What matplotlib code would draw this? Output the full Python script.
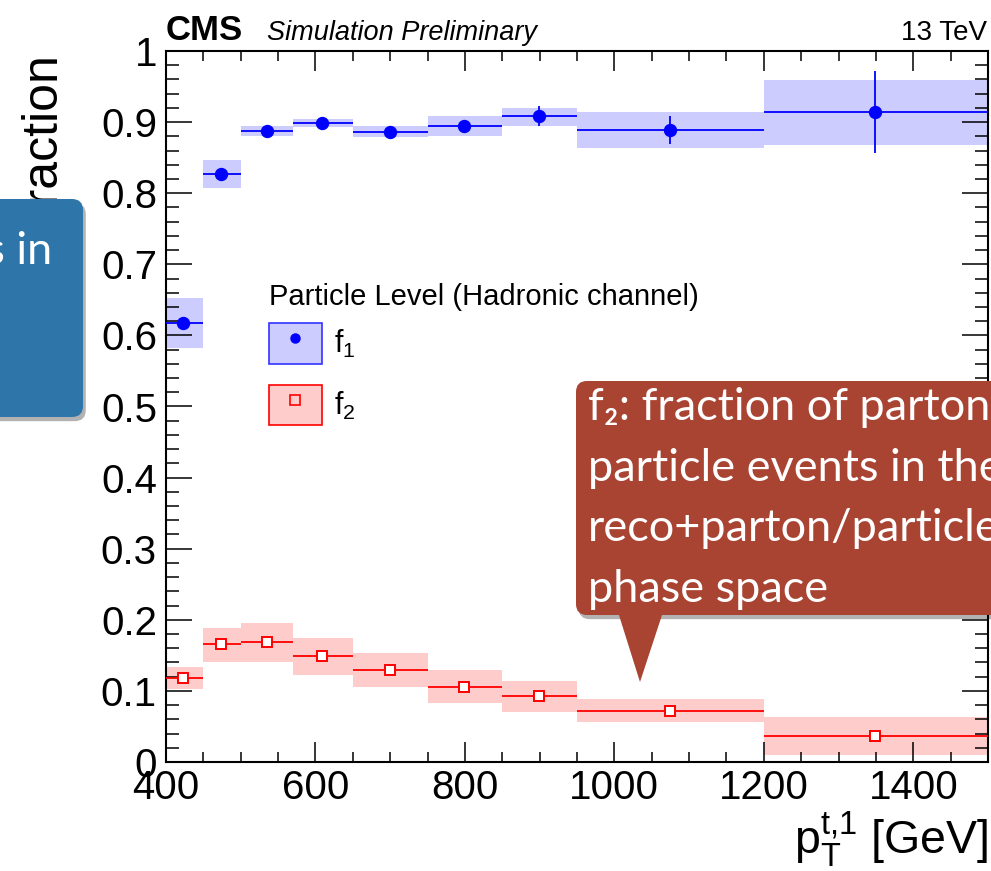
import matplotlib
matplotlib.use('Agg')
import matplotlib.pyplot as plt
import numpy as np
from matplotlib.lines import Line2D
from matplotlib.patches import FancyBboxPatch, Patch, Polygon
from matplotlib.patheffects import withSimplePatchShadow
from matplotlib.transforms import Affine2D

W, H = 991, 871

plt.rcParams['font.family'] = ['Liberation Sans', 'DejaVu Sans']
plt.rcParams['mathtext.fontset'] = 'custom'
plt.rcParams['mathtext.rm'] = 'Liberation Sans'
plt.rcParams['mathtext.it'] = 'Liberation Sans:italic'

# pT bins and per-bin mean positions [GeV]
bin_edges = np.array([400, 450, 500, 570, 650, 750, 850, 950, 1200, 1500])
x_mean = np.array([423, 474, 535, 609, 700, 799, 899, 1075, 1349])

# f1 : particle-level fraction
f1 = np.array([0.617, 0.827, 0.887, 0.899, 0.886, 0.895, 0.908, 0.889, 0.914])
f1_err = np.array([0.004, 0.004, 0.004, 0.005, 0.005, 0.008, 0.014, 0.020, 0.058])
f1_lo = np.array([0.582, 0.808, 0.880, 0.893, 0.879, 0.881, 0.895, 0.864, 0.868])
f1_hi = np.array([0.652, 0.847, 0.894, 0.904, 0.894, 0.909, 0.920, 0.914, 0.959])

# f2
f2 = np.array([0.118, 0.166, 0.169, 0.149, 0.129, 0.106, 0.093, 0.072, 0.037])
f2_err = np.array([0.003, 0.003, 0.003, 0.003, 0.003, 0.003, 0.003, 0.004, 0.005])
f2_lo = np.array([0.102, 0.141, 0.141, 0.123, 0.105, 0.083, 0.071, 0.056, 0.010])
f2_hi = np.array([0.133, 0.189, 0.196, 0.174, 0.153, 0.129, 0.114, 0.089, 0.063])

y_ticks = np.arange(0, 1.01, 0.1)
y_ticklabels = ['0', '0.1', '0.2', '0.3', '0.4', '0.5', '0.6', '0.7', '0.8', '0.9', '1']
x_ticks = [400, 600, 800, 1000, 1200, 1400]

fig = plt.figure(figsize=(W / 100, H / 100), dpi=100)
ax = fig.add_axes([166 / W, (H - 762) / H, 822 / W, 711 / H])

# pixel transform, origin top-left
px = Affine2D().scale(1 / W, -1 / H).translate(0, 1) + fig.transFigure

widths = np.diff(bin_edges)
ax.bar(bin_edges[:-1], f1_hi - f1_lo, bottom=f1_lo, width=widths,
       align='edge', color='#ccccff', lw=0, zorder=1)
ax.bar(bin_edges[:-1], f2_hi - f2_lo, bottom=f2_lo, width=widths,
       align='edge', color='#ffcccc', lw=0, zorder=1)

xerr = [x_mean - bin_edges[:-1], bin_edges[1:] - x_mean]
ax.errorbar(x_mean, f1, yerr=f1_err, xerr=xerr, fmt='o', color='blue',
            ms=8.6, elinewidth=1.3, capsize=0, zorder=3)
ax.errorbar(x_mean, f2, yerr=f2_err, xerr=xerr, fmt='s', color='red',
            mfc='white', mec='red', mew=1.4, ms=7.8, elinewidth=1.3,
            capsize=0, zorder=3)

ax.set_xlim(400, 1500)
ax.set_ylim(0, 1)
ax.set_xticks(x_ticks)
ax.set_xticks(np.arange(400, 1501, 50), minor=True)
ax.set_yticks(y_ticks)
ax.set_yticklabels(y_ticklabels)
ax.set_yticks(np.arange(0, 1.001, 0.02), minor=True)
ax.tick_params(which='both', direction='in', top=True, right=True,
               labelsize=29, width=1.1)
ax.tick_params(axis='x', which='major', length=14.5, pad=5)
ax.tick_params(axis='x', which='minor', length=7.2)
ax.tick_params(axis='y', which='major', length=18.7, pad=6.5)
ax.tick_params(axis='y', which='minor', length=9.4)
for sp in ax.spines.values():
    sp.set_linewidth(1.5)

# legend
h1 = (Patch(fc='#ccccff', ec='#3333ff', lw=1.2),
      Line2D([], [], marker='o', color='blue', ls='none', ms=6.5))
h2 = (Patch(fc='#ffcccc', ec='red', lw=1.2),
      Line2D([], [], marker='s', mfc='none', mec='red', mew=1.2, ls='none', ms=7))
leg = ax.legend([h1, h2], [r'$\mathrm{f}_{1}$', r'$\mathrm{f}_{2}$'],
                title='Particle Level (Hadronic channel)', loc='upper left',
                bbox_to_anchor=(0.125, 0.674), frameon=False, fontsize=22,
                title_fontsize=21, alignment='left', borderpad=0,
                handlelength=1.75, handleheight=1.65, handletextpad=0.4,
                labelspacing=0.7, borderaxespad=0)
leg._legend_box.sep = 9

# titles
fig.text(166, 40, 'CMS', transform=px, fontsize=25, fontweight='bold',
         ha='left', va='baseline')
fig.text(267, 40, 'Simulation Preliminary', transform=px, fontsize=19.5,
         style='italic', ha='left', va='baseline')
fig.text(987, 40, '13 TeV', transform=px, fontsize=20, ha='right',
         va='baseline')
fig.text(41, 50, 'Fraction', transform=px, fontsize=36, rotation=90,
         ha='center', va='top')
fig.text(988, 855, r'$\mathrm{p}_{\mathrm{T}}^{\mathrm{t{,}1}}$ [GeV]',
         transform=px, fontsize=33.5, ha='right', va='baseline')

# overlay callouts
shadow = [withSimplePatchShadow(offset=(2, -3), shadow_rgbFace='k', alpha=0.3)]
blue_box = FancyBboxPatch((-30, 199), 113, 218, transform=px,
                          boxstyle='round,pad=0,rounding_size=11',
                          fc='#2e76a9', ec='none', zorder=10,
                          path_effects=shadow)
fig.add_artist(blue_box)
callout_font = ['Lato', 'DejaVu Sans']
fig.text(52, 264, 'events in', transform=px, fontsize=32.5, color='white',
         ha='right', va='baseline', family=callout_font, zorder=11)
fig.text(2, 324, 'space', transform=px, fontsize=32.5, color='white',
         ha='right', va='baseline', family=callout_font, zorder=11)

red_box = FancyBboxPatch((576, 381), 460, 234, transform=px,
                         boxstyle='round,pad=0,rounding_size=11',
                         fc='#a94332', ec='none', zorder=10,
                         path_effects=shadow)
fig.add_artist(red_box)
pointer = Polygon([(618, 612), (663, 612), (640, 682)], closed=True,
                  transform=px, fc='#a94332', ec='none', zorder=10)
fig.add_artist(pointer)
callout_lines = ['f\u2082: fraction of parton/', 'particle events in the',
                 'reco+parton/particle', 'phase space']
for i, line in enumerate(callout_lines):
    fig.text(588, 420 + 60.5 * i, line, transform=px, fontsize=32.5,
             color='white', ha='left', va='baseline',
             family=callout_font, zorder=11)

fig.savefig('out.png', dpi=100)
